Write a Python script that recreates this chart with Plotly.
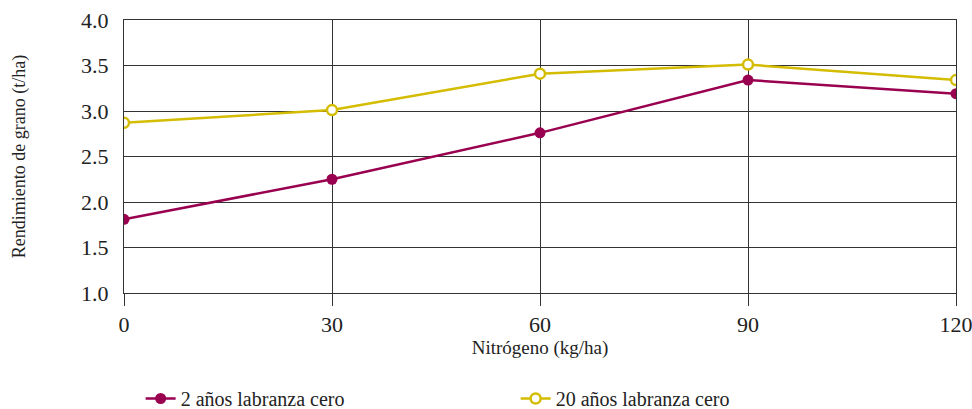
import plotly.graph_objects as go

nitrogeno = [0, 30, 60, 90, 120]
dos_anos = [1.81, 2.25, 2.76, 3.34, 3.19]
veinte_anos = [2.87, 3.01, 3.41, 3.51, 3.34]
x_ticks = [0, 30, 60, 90, 120]
y_ticks = [1.0, 1.5, 2.0, 2.5, 3.0, 3.5, 4.0]

PURPLE = "#990050"
YELLOW = "#D4BC00"
GRID = "#333333"
FONT = "Liberation Serif"

fig = go.Figure()
fig.add_trace(go.Scatter(
    x=nitrogeno, y=dos_anos, mode="lines+markers", name="2 años labranza cero",
    line=dict(color=PURPLE, width=2.5),
    marker=dict(symbol="circle", size=11, color=PURPLE, line=dict(color=PURPLE, width=0)),
))
fig.add_trace(go.Scatter(
    x=nitrogeno, y=veinte_anos, mode="lines+markers", name="20 años labranza cero",
    line=dict(color=YELLOW, width=2.5),
    marker=dict(symbol="circle", size=10, color="white", line=dict(color=YELLOW, width=2.5)),
))

fig.update_layout(
    width=972, height=409,
    margin=dict(l=124, r=16, t=20, b=116, pad=0, autoexpand=False),
    paper_bgcolor="white", plot_bgcolor="white",
    font=dict(family=FONT, color="#222222"),
    showlegend=True,
    legend=dict(orientation="h", x=0.02, xanchor="left", y=-0.315, yanchor="top",
                font=dict(size=20, family=FONT), itemwidth=30,
                traceorder="normal", entrywidth=330, entrywidthmode="pixels",
                tracegroupgap=0, borderwidth=0),
    xaxis=dict(
        range=[0, 120], tickvals=x_ticks, ticktext=[str(v) for v in x_ticks],
        showgrid=True, gridcolor=GRID, gridwidth=1,
        showline=True, linecolor=GRID, linewidth=1, mirror=True,
        ticks="outside", ticklen=12, tickcolor=GRID, tickwidth=1,
        tickfont=dict(size=22, family=FONT), ticklabeloverflow="allow",
        zeroline=False, automargin=False,
        title=dict(text="Nitrógeno (kg/ha)", font=dict(size=19, family=FONT), standoff=4),
    ),
    yaxis=dict(
        range=[1.0, 4.0], tickvals=y_ticks, ticktext=[f"{v:.1f}" for v in y_ticks],
        showgrid=True, gridcolor=GRID, gridwidth=1,
        showline=True, linecolor=GRID, linewidth=1, mirror=True,
        ticks="", ticklabelstandoff=10,
        tickfont=dict(size=22, family=FONT),
        zeroline=False, automargin=False,
        title=dict(text="Rendimiento de grano (t/ha)", font=dict(size=18, family=FONT), standoff=50),
    ),
)

fig.write_html("out.html", config={"displayModeBar": False},
               post_script="document.body.style.margin='0';")
